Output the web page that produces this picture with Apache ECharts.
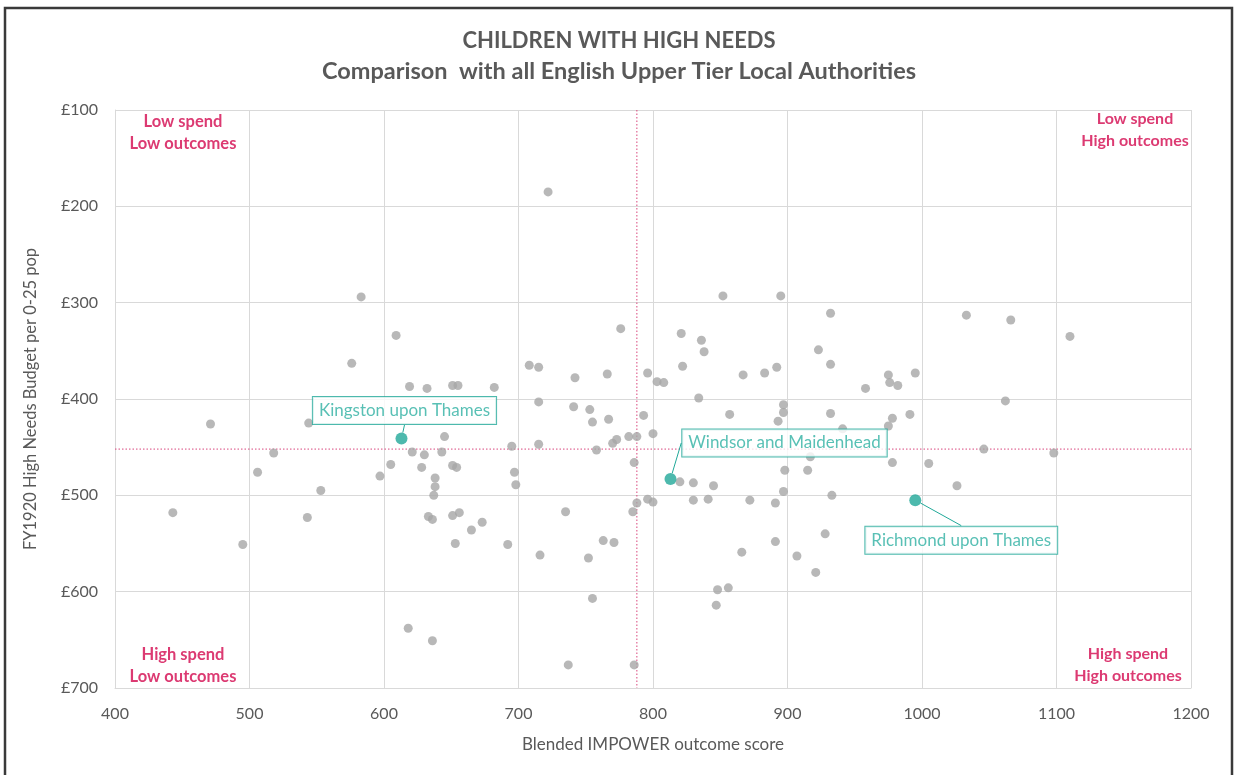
<!DOCTYPE html>
<html>
<head>
<meta charset="utf-8">
<script src="https://cdn.jsdelivr.net/npm/echarts@6/dist/echarts.min.js"></script>
<style>
  html, body { margin: 0; padding: 0; background: #fff; }
  #chart { width: 1238px; height: 775px; }
</style>
</head>
<body>
<div id="chart"></div>
<script>
// outcome score vs high needs budget, all upper tier LAs
var scores = [583, 609, 576, 619, 632, 471, 544, 518, 621, 630, 605, 628, 506, 597, 638, 638, 637, 553, 443, 543,
  633, 636, 495, 618, 636,
  722, 776, 821, 708, 715, 742, 766, 796, 803, 808, 822, 834, 651, 655, 682, 715, 741, 753, 755, 767,
  793, 800, 782, 788, 770, 773, 645, 695, 715,
  643, 651, 654, 758, 697, 698, 786, 820, 830, 830, 788, 796, 800, 785, 651, 656, 665, 673, 653, 692,
  735, 716, 752, 763, 771, 755, 737, 786,
  852, 895, 932, 836, 838, 867, 883, 892, 923, 932, 958, 975, 976, 982, 995, 857, 897, 897, 893, 932,
  978, 991, 975, 941, 978, 1005, 917,
  898, 915, 845, 841, 872, 891, 897, 933, 928, 891, 866, 907, 921, 848, 856, 847,
  1033, 1066, 1110, 1062, 1046, 1098, 1026];
var budgets = [294, 334, 363, 387, 389, 426, 425, 456, 455, 458, 468, 471, 476, 480, 482, 491, 500, 495, 518, 523,
  522, 525, 551, 638, 651,
  185, 327, 332, 365, 367, 378, 374, 373, 382, 383, 366, 399, 386, 386, 388, 403, 408, 411, 424, 421,
  417, 436, 439, 439, 446, 442, 439, 449, 447,
  455, 469, 471, 453, 476, 489, 466, 486, 487, 505, 508, 504, 507, 517, 521, 518, 536, 528, 550, 551,
  517, 562, 565, 547, 549, 607, 676, 676,
  293, 293, 311, 339, 351, 375, 373, 367, 349, 364, 389, 375, 383, 386, 373, 416, 406, 414, 423, 415,
  420, 416, 428, 431, 466, 467, 460,
  474, 474, 490, 504, 505, 508, 496, 500, 540, 548, 559, 563, 580, 598, 596, 614,
  313, 318, 335, 402, 452, 456, 490];

var namedLAs = ['Kingston upon Thames', 'Windsor and Maidenhead', 'Richmond upon Thames'];
var namedScores = [613, 813, 995];
var namedBudgets = [441, 483, 505];

var meanScore = 788;
var meanBudget = 452;

var scoreRange = [400, 1200];
var budgetRange = [100, 700];

var quadrantLabels = ['Low spend\nLow outcomes', 'Low spend\nHigh outcomes', 'High spend\nLow outcomes', 'High spend\nHigh outcomes'];

var grey = '#a6a6a6';
var teal = '#20a898';
var pink = '#dc3a72';
var meanColor = '#d9457c';
var font = 'Lato, "Open Sans", sans-serif';

var allPoints = scores.map(function (s, i) { return [s, budgets[i]]; });
var namedPoints = namedScores.map(function (s, i) { return { name: namedLAs[i], value: [s, namedBudgets[i]] }; });

// where the callout boxes sit relative to their dot
var calloutShift = [{ dx: 3, dy: -28 }, { dx: 114, dy: -36 }, { dx: 46, dy: 40 }];

function meanSeries(pts) {
  return {
    type: 'line',
    data: pts,
    symbol: 'none',
    silent: true,
    z: 1,
    lineStyle: { color: meanColor, type: [1.5, 2], width: 1 }
  };
}

var chart = echarts.init(document.getElementById('chart'));

chart.setOption({
  animation: false,
  textStyle: { fontFamily: font },
  title: {
    left: 'center',
    top: 25,
    itemGap: 7,
    text: 'CHILDREN WITH HIGH NEEDS',
    subtext: 'Comparison  with all English Upper Tier Local Authorities',
    textStyle: { fontFamily: font, fontSize: 22, fontWeight: 'bold', color: '#595959' },
    subtextStyle: { fontFamily: font, fontSize: 23.5, fontWeight: 'bold', color: '#595959' }
  },
  grid: { left: 115, right: 47, top: 110, bottom: 87 },
  xAxis: {
    type: 'value',
    min: scoreRange[0], max: scoreRange[1], interval: 100,
    name: 'Blended IMPOWER outcome score',
    nameLocation: 'middle',
    nameGap: 48,
    nameTextStyle: { fontSize: 17, color: '#595959' },
    axisLine: { lineStyle: { color: '#d9d9d9' } },
    axisTick: { show: false },
    axisLabel: { fontSize: 16, color: '#595959', margin: 18, formatter: function (v) { return String(v); } },
    splitLine: { lineStyle: { color: '#d9d9d9' } }
  },
  yAxis: {
    type: 'value',
    inverse: true,
    min: budgetRange[0], max: budgetRange[1], interval: 100,
    name: 'FY1920 High Needs Budget per 0-25 pop',
    nameLocation: 'middle',
    nameGap: 76,
    nameTextStyle: { fontSize: 16.5, color: '#595959' },
    axisLine: { show: true, lineStyle: { color: '#d9d9d9' } },
    axisTick: { show: false },
    axisLabel: { fontSize: 16, color: '#595959', margin: 17, formatter: function (v) { return '£' + v; } },
    splitLine: { lineStyle: { color: '#d9d9d9' } }
  },
  graphic: [
    { type: 'rect', z: 100, shape: { x: 5, y: 8, width: 1227, height: 790 }, style: { fill: 'none', stroke: '#3a3a3a', lineWidth: 2.5 } },
    { type: 'text', x: 183, y: 111, style: { text: quadrantLabels[0], textAlign: 'center', fill: pink, font: 'bold 16.5px ' + font, lineHeight: 22 } },
    { type: 'text', x: 1135, y: 108, style: { text: quadrantLabels[1], textAlign: 'center', fill: pink, font: 'bold 16px ' + font, lineHeight: 22 } },
    { type: 'text', x: 183, y: 644, style: { text: quadrantLabels[2], textAlign: 'center', fill: pink, font: 'bold 16.5px ' + font, lineHeight: 22 } },
    { type: 'text', x: 1128, y: 643, style: { text: quadrantLabels[3], textAlign: 'center', fill: pink, font: 'bold 16px ' + font, lineHeight: 22 } }
  ],
  series: [
    meanSeries([[meanScore, budgetRange[0]], [meanScore, budgetRange[1]]]),
    meanSeries([[scoreRange[0], meanBudget], [scoreRange[1], meanBudget]]),
    {
      type: 'scatter',
      data: allPoints,
      symbolSize: 9,
      z: 3,
      itemStyle: { color: grey },
      silent: true
    },
    {
      type: 'scatter',
      data: namedPoints,
      symbolSize: 12,
      z: 5,
      itemStyle: { color: teal },
      label: {
        show: true,
        position: 'inside',
        formatter: '{b}',
        color: '#2fb0a2',
        fontSize: 17,
        fontFamily: font,
        backgroundColor: '#fff',
        borderColor: teal,
        borderWidth: 1,
        padding: [5, 6, 5, 6]
      },
      labelLine: { show: true, lineStyle: { color: teal, width: 1 } },
      labelLayout: function (p) { return calloutShift[p.dataIndex]; }
    }
  ]
});
</script>
</body>
</html>
